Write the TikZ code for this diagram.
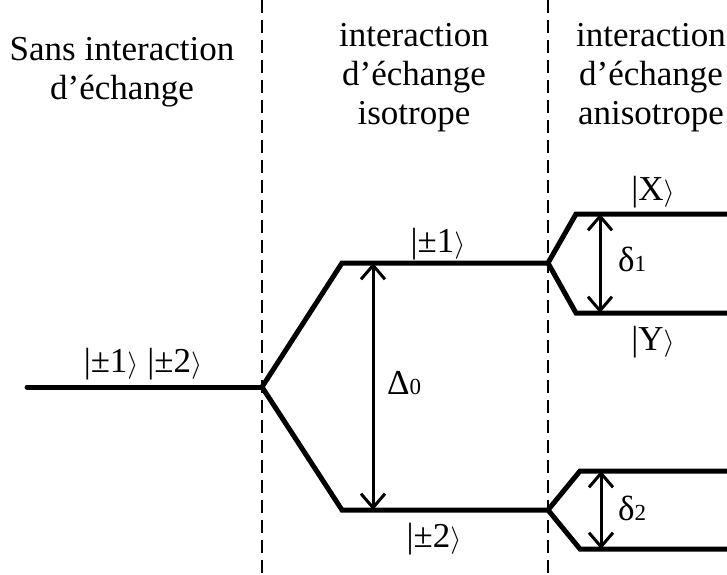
\documentclass[tikz,border=0pt]{standalone}
\usepackage{fontspec}
\setmainfont{Liberation Serif}
\usetikzlibrary{arrows.meta}
\newcommand{\kt}[1]{|#1\scalebox{1.15}[1.1]{$\rangle$}}
\newcommand{\subsz}[1]{{\fontsize{23}{23}\selectfont #1}}
\begin{document}
\begin{tikzpicture}[x=1pt,y=-1pt,every node/.style={font=\fontsize{35}{39}\selectfont,inner sep=0pt},
  level/.style={line width=5pt},
  gap/.style={{Straight Barb[length=14pt,width=24pt]}-{Straight Barb[length=14pt,width=24pt]},line width=3pt},
  sep/.style={line width=1.6pt,dash pattern=on 13pt off 7pt}]
  \useasboundingbox (0,0) rectangle (727,574);
  \coordinate (s0) at (262,0); \coordinate (s1) at (548,0);
  \draw[sep] (s0) -- (s0 |- 0,574); \draw[sep] (s1) -- (s1 |- 0,574);
  \node[align=center,anchor=north] (h0) at (122,37) {Sans interaction\\d'échange};
  \node[align=center,anchor=north] (h1) at (414,23) {interaction\\d'échange\\isotrope};
  \node[align=center,anchor=north] (h2) at (651,23) {interaction\\d'échange\\anisotrope};
  \coordinate (g0) at (27,387); \coordinate (g1) at (262,387);
  \coordinate (u0) at (342,263); \coordinate (u1) at (548,263);
  \coordinate (d0) at (342,510); \coordinate (d1) at (548,510);
  \coordinate (x0) at (576,214); \coordinate (x1) at (727,214);
  \coordinate (y0) at (576,313); \coordinate (y1) at (727,313);
  \coordinate (p0) at (580,471); \coordinate (p1) at (727,471);
  \coordinate (q0) at (580,549); \coordinate (q1) at (727,549);
  \draw[level,line cap=round] (g0) -- (g1);
  \draw[level] (g1) -- (u0) -- (u1) -- (x0) -- (x1); \draw[level] (u1) -- (y0) -- (y1);
  \draw[level] (g1) -- (d0) -- (d1) -- (p0) -- (p1); \draw[level] (d1) -- (q0) -- (q1);
  \coordinate (m0) at (373,0); \coordinate (m1) at (600,0); \coordinate (m2) at (601,0);
  \draw[gap] (m0 |- u0) -- (m0 |- d0);
  \draw[gap] (m1 |- x0) -- (m1 |- y0);
  \draw[gap] (m2 |- p0) -- (m2 |- q0);
  \node[anchor=base] (k0) at (143,372) {\kt{±1} \kt{±2}};
  \node[anchor=base] (k1) at (438,252) {\kt{±1}};
  \node[anchor=base] (k2) at (434,547) {\kt{±2}};
  \node[anchor=base] (kx) at (653,200) {\kt{X}};
  \node[anchor=base] (ky) at (653,350) {\kt{Y}};
  \node[anchor=base west] (D0) at (387,394) {Δ\subsz{0}};
  \node[anchor=base west] (e1) at (618,271) {δ\subsz{1}};
  \node[anchor=base west] (e2) at (618,520) {δ\subsz{2}};
\end{tikzpicture}
\end{document}
